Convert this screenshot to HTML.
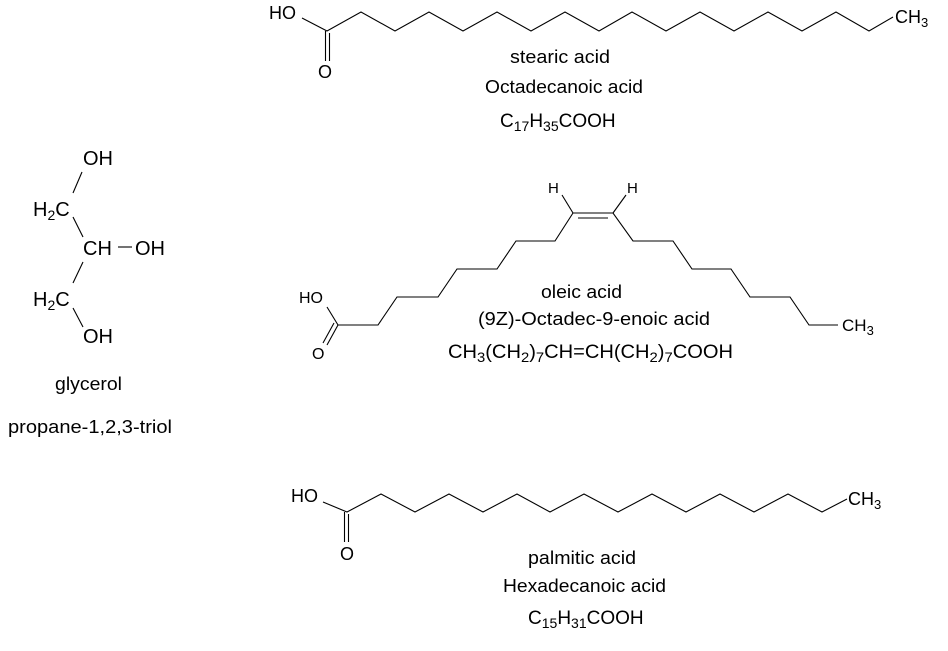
<!DOCTYPE html>
<html><head><meta charset="utf-8"><style>
html,body{margin:0;padding:0;background:#fff;}
svg{display:block;}
text{font-family:"Liberation Sans",Arial,sans-serif;fill:#000;}
</style></head><body>
<svg width="948" height="651" viewBox="0 0 948 651" xmlns="http://www.w3.org/2000/svg">
<g stroke="#000" stroke-width="1.1" fill="none">
<!-- stearic -->
<polyline points="302,18 327,31 361,12 395,31 429,12 463,31 497,12 531,31 565,12 599,31 632,12 666,31 700,12 734,31 768,12 802,31 836,12 869,31 893,17"/>
<line x1="325.5" y1="31" x2="325.5" y2="61"/><line x1="329.5" y1="33" x2="329.5" y2="61"/>
<!-- palmitic -->
<polyline points="323,502 347,512 381,494 415,512 449,494 483,512 517,494 550,512 584,494 618,512 652,494 686,512 720,494 754,512 788,494 822,512 847,499"/>
<line x1="344.5" y1="512" x2="344.5" y2="542"/><line x1="348.5" y1="514" x2="348.5" y2="542"/>
<!-- oleic -->
<polyline points="327,307 338,325 378,325 397,297 438,297 457,269 497,269 516,241 555,241 573,213 613,213 633,241 673,241 692,269 731,269 750,297 790,297 809,325 838,325"/>
<line x1="578" y1="218" x2="608" y2="218"/>
<line x1="338" y1="325" x2="327" y2="345"/><line x1="334" y1="323" x2="323" y2="343"/>
<line x1="562" y1="195" x2="573" y2="213"/><line x1="626" y1="195" x2="613" y2="213"/>
<!-- glycerol -->
<line x1="82" y1="172" x2="73" y2="193"/>
<line x1="73" y1="217" x2="83" y2="237"/>
<line x1="83" y1="262" x2="73" y2="283"/>
<line x1="73" y1="308" x2="83" y2="327"/>
<line x1="118" y1="247" x2="132" y2="247"/>
</g>
<!-- stearic labels -->
<text x="269" y="19" font-size="18">HO</text>
<text x="318" y="78" font-size="18">O</text>
<text x="895" y="23" font-size="18">CH<tspan font-size="13" dy="4">3</tspan></text>
<text x="510" y="63" font-size="18" textLength="100" lengthAdjust="spacingAndGlyphs">stearic acid</text>
<text x="485" y="93" font-size="18" textLength="158" lengthAdjust="spacingAndGlyphs">Octadecanoic acid</text>
<text x="500" y="127" font-size="19">C<tspan font-size="14" dy="4">17</tspan><tspan dy="-4">H</tspan><tspan font-size="14" dy="4">35</tspan><tspan dy="-4">COOH</tspan></text>
<!-- oleic labels -->
<text x="299" y="303" font-size="16">HO</text>
<text x="312" y="359" font-size="16">O</text>
<text x="548" y="193" font-size="15">H</text>
<text x="627" y="193" font-size="15">H</text>
<text x="842" y="331" font-size="17">CH<tspan font-size="13" dy="4">3</tspan></text>
<text x="541" y="298" font-size="18" textLength="81" lengthAdjust="spacingAndGlyphs">oleic acid</text>
<text x="478" y="325" font-size="18" textLength="232" lengthAdjust="spacingAndGlyphs">(9Z)-Octadec-9-enoic acid</text>
<text x="448" y="358" font-size="19" textLength="285" lengthAdjust="spacingAndGlyphs">CH<tspan font-size="14" dy="4">3</tspan><tspan dy="-4">(CH</tspan><tspan font-size="14" dy="4">2</tspan><tspan dy="-4">)</tspan><tspan font-size="14" dy="4">7</tspan><tspan dy="-4">CH=CH(CH</tspan><tspan font-size="14" dy="4">2</tspan><tspan dy="-4">)</tspan><tspan font-size="14" dy="4">7</tspan><tspan dy="-4">COOH</tspan></text>
<!-- palmitic labels -->
<text x="291" y="502" font-size="18">HO</text>
<text x="340" y="560" font-size="18">O</text>
<text x="848" y="505" font-size="18">CH<tspan font-size="13" dy="4">3</tspan></text>
<text x="528" y="564" font-size="18" textLength="108" lengthAdjust="spacingAndGlyphs">palmitic acid</text>
<text x="503" y="592" font-size="18" textLength="163" lengthAdjust="spacingAndGlyphs">Hexadecanoic acid</text>
<text x="528" y="624" font-size="19">C<tspan font-size="14" dy="4">15</tspan><tspan dy="-4">H</tspan><tspan font-size="14" dy="4">31</tspan><tspan dy="-4">COOH</tspan></text>
<!-- glycerol labels -->
<text x="83" y="165" font-size="20">OH</text>
<text x="33" y="216" font-size="20">H<tspan font-size="14" dy="4">2</tspan><tspan dy="-4">C</tspan></text>
<text x="83" y="255" font-size="20">CH</text>
<text x="135" y="255" font-size="20">OH</text>
<text x="33" y="306" font-size="20">H<tspan font-size="14" dy="4">2</tspan><tspan dy="-4">C</tspan></text>
<text x="83" y="343" font-size="20">OH</text>
<text x="55" y="390" font-size="18" textLength="67" lengthAdjust="spacingAndGlyphs">glycerol</text>
<text x="8" y="433" font-size="18" textLength="164" lengthAdjust="spacingAndGlyphs">propane-1,2,3-triol</text>
</svg>
</body></html>
